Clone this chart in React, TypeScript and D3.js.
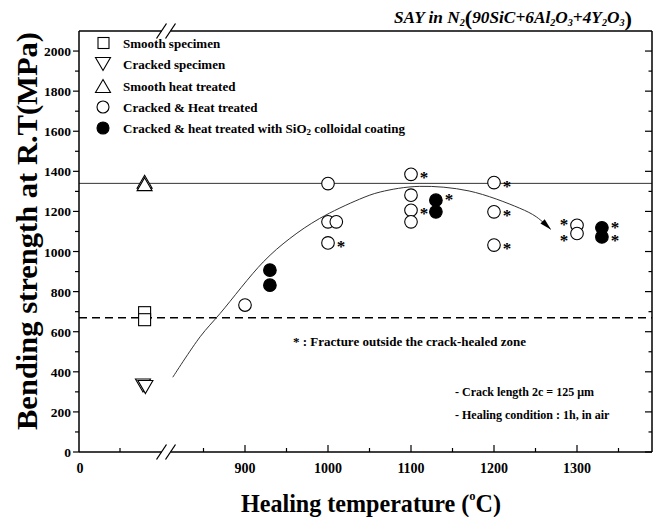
import React from 'react';
import * as d3 from 'd3';

const W = 660;
const H = 517;

// frame of the plot, in px
const frame = { left: 79, right: 652, top: 31, bottom: 452 };
const breakAt = [161.5, 170.5];

const yMajor = d3.range(0, 2001, 200);
const yMinor = d3.range(100, 2100, 200);
const xMajor = [900, 1000, 1100, 1200, 1300];
const xMinor = [850, 950, 1050, 1150, 1250, 1350];

// untreated specimens sit in the left (un-scaled) part of the axis
const smoothPos = [80, 80];
const smoothVal = [695, 660];
const crackedPos = [78, 81];
const crackedVal = [332, 324];
const smoothHtPos = [80, 80];
const smoothHtVal = [1348, 1336];

// cracked & heat treated (open circles); star codes: side + (u)p/(d)own nudge
const openTemp = [900, 1000, 1000, 1010, 1000, 1100, 1100, 1100, 1100, 1200, 1200, 1200, 1300, 1300];
const openVal = [733, 1339, 1148, 1148, 1043, 1385, 1281, 1206, 1148, 1344, 1198, 1032, 1131, 1090];
const openStar = ['', '', '', '', 'r', 'r', '', 'r', '', 'r', 'r', 'r', 'lu', 'ld'];

// with SiO2 colloidal coating (filled circles)
const filledTemp = [930, 930, 1130, 1130, 1330, 1330];
const filledVal = [907, 832, 1256, 1198, 1118, 1073];
const filledStar = ['', '', 'ru', '', 'ru', 'r'];

// guide curve drawn through the data
const curveTemp = [813, 846, 870, 922, 954, 990, 1038, 1063, 1110, 1170, 1231, 1251, 1268];
const curveVal = [373, 575, 691, 948, 1065, 1165, 1261, 1297, 1325, 1302, 1216, 1173, 1112];

const smoothRef = 1340;
const crackedRef = 670;

const legendItems = ['Smooth specimen', 'Cracked specimen', 'Smooth heat treated', 'Cracked & Heat treated'];

const serif = '"Liberation Serif", "Times New Roman", serif';

const App = () => {
  const y = d3.scaleLinear().domain([0, 2100]).range([frame.bottom, frame.top]);
  const x = d3.scaleLinear().domain([900, 1300]).range([245, 577]);
  const xLeft = d3.scaleLinear().domain([0, 100]).range([frame.left, 161]);

  const line = d3
    .line<number>()
    .x((d, i) => x(curveTemp[i]))
    .y(d => y(d))
    .curve(d3.curveCatmullRom.alpha(0.5));

  const tri = (cx: number, cy: number, up: boolean) => {
    const h = 6.5, w = 7.5;
    return up
      ? `M${cx},${cy - h}L${cx + w},${cy + h}L${cx - w},${cy + h}Z`
      : `M${cx},${cy + h}L${cx + w},${cy - h}L${cx - w},${cy - h}Z`;
  };

  const star = (cx: number, cy: number, code: string, key: string) => {
    if (!code) return null;
    const dx = code[0] === 'r' ? 13 : -13;
    const dy = code[1] === 'u' ? -4 : code[1] === 'd' ? 4 : 0;
    return (
      <text key={key} x={cx + dx} y={cy + dy + 9} textAnchor="middle"
        fontSize={17} fontWeight="bold" fontFamily={serif} fill="#000">*</text>
    );
  };

  const slash = (bx: number, by: number, k: string) => (
    <line key={k} x1={bx - 5} y1={by + 7.5} x2={bx + 5} y2={by - 7.5} stroke="#000" strokeWidth={1.3} />
  );

  const legendY = [43, 64, 86, 107, 128];

  return (
    <svg width={W} height={H} style={{ position: 'absolute', left: 0, top: 0, background: '#fff' }}>
      <defs>
        <marker id="arrow" viewBox="0 0 12 6" refX={11} refY={3} markerWidth={12} markerHeight={6}
          markerUnits="userSpaceOnUse" orient="auto">
          <path d="M0,0L12,3L0,6Z" fill="#000" />
        </marker>
      </defs>

      {/* reference lines */}
      <line x1={frame.left} x2={frame.right} y1={y(smoothRef)} y2={y(smoothRef)} stroke="#333" strokeWidth={1} />
      <line x1={frame.left} x2={frame.right} y1={y(crackedRef)} y2={y(crackedRef)} stroke="#000"
        strokeWidth={1.5} strokeDasharray="8,5" />

      {/* trend curve */}
      <path d={line(curveVal) || ''} fill="none" stroke="#333" strokeWidth={1} markerEnd="url(#arrow)" />

      {/* frame with axis break */}
      <g stroke="#000" strokeWidth={1.5} fill="none">
        <line x1={frame.left} x2={frame.left} y1={frame.top} y2={frame.bottom} />
        <line x1={frame.right} x2={frame.right} y1={frame.top} y2={frame.bottom} />
        <line x1={frame.left} x2={breakAt[0]} y1={frame.top} y2={frame.top} />
        <line x1={breakAt[1]} x2={frame.right} y1={frame.top} y2={frame.top} />
        <line x1={frame.left} x2={breakAt[0]} y1={frame.bottom} y2={frame.bottom} />
        <line x1={breakAt[1]} x2={frame.right} y1={frame.bottom} y2={frame.bottom} />
      </g>
      {breakAt.map((b, i) => slash(b, frame.top, 't' + i))}
      {breakAt.map((b, i) => slash(b, frame.bottom, 'b' + i))}

      {/* ticks */}
      <g stroke="#000" strokeWidth={1.2}>
        {yMajor.map(v => (
          <g key={'ym' + v}>
            <line x1={frame.left - 6} x2={frame.left} y1={y(v)} y2={y(v)} />
            <line x1={frame.right - 7} x2={frame.right} y1={y(v)} y2={y(v)} />
          </g>
        ))}
        {yMinor.map(v => (
          <g key={'yn' + v}>
            <line x1={frame.left - 4} x2={frame.left} y1={y(v)} y2={y(v)} />
            <line x1={frame.right - 3.5} x2={frame.right} y1={y(v)} y2={y(v)} />
          </g>
        ))}
        {xMajor.map(v => (
          <line key={'xm' + v} x1={x(v)} x2={x(v)} y1={frame.bottom} y2={frame.bottom - 7} />
        ))}
        {xMinor.map(v => (
          <line key={'xn' + v} x1={x(v)} x2={x(v)} y1={frame.bottom} y2={frame.bottom - 4} />
        ))}
        <line x1={xLeft(50)} x2={xLeft(50)} y1={frame.bottom} y2={frame.bottom - 4} />
      </g>
      <g fontFamily={serif} fontWeight="bold" fontSize={13.5}>
        {yMajor.map(v => (
          <text key={'yl' + v} x={frame.left - 8} y={y(v) + 5} textAnchor="end">{v}</text>
        ))}
      </g>
      <g fontFamily={serif} fontWeight="bold" fontSize={14}>
        <text x={xLeft(0) + 1} y={473} textAnchor="middle">0</text>
        {xMajor.map(v => (
          <text key={'xl' + v} x={x(v)} y={473} textAnchor="middle">{v}</text>
        ))}
      </g>

      {/* axis titles */}
      <text x={371} y={512} textAnchor="middle" fontFamily={serif} fontWeight="bold" fontSize={25}
        textLength={260} lengthAdjust="spacingAndGlyphs">
        Healing temperature (<tspan fontSize={13} dy={-12}>o</tspan><tspan dy={12}>C)</tspan>
      </text>
      <text transform="translate(37,231) rotate(-90)" textAnchor="middle" fontFamily={serif}
        fontWeight="bold" fontSize={30} textLength={398} lengthAdjust="spacingAndGlyphs">
        Bending strength at R.T(MPa)
      </text>

      {/* title */}
      <text x={394} y={23} fontFamily={serif} fontWeight="bold" fontStyle="italic" fontSize={17}
        textLength={238} lengthAdjust="spacingAndGlyphs">
        SAY in N<tspan fontSize={10} dy={3}>2</tspan>
        <tspan fontSize={22} dy={-1} fontStyle="normal">(</tspan>
        <tspan dy={-2}>90SiC+6Al</tspan><tspan fontSize={10} dy={3}>2</tspan>
        <tspan dy={-3}>O</tspan><tspan fontSize={10} dy={3}>3</tspan>
        <tspan dy={-3}>+4Y</tspan><tspan fontSize={10} dy={3}>2</tspan>
        <tspan dy={-3}>O</tspan><tspan fontSize={10} dy={3}>3</tspan>
        <tspan fontSize={22} dy={0} fontStyle="normal">)</tspan>
      </text>

      {/* data markers */}
      <g fill="#fff" stroke="#000" strokeWidth={1.1}>
        {smoothVal.map((v, i) => (
          <rect key={'s' + i} x={xLeft(smoothPos[i]) - 6} y={y(v) - 6} width={12} height={12} />
        ))}
        {crackedVal.map((v, i) => (
          <path key={'c' + i} d={tri(xLeft(crackedPos[i]), y(v), false)} />
        ))}
        {smoothHtVal.map((v, i) => (
          <path key={'h' + i} d={tri(xLeft(smoothHtPos[i]), y(v), true)} />
        ))}
        {openVal.map((v, i) => (
          <circle key={'o' + i} cx={x(openTemp[i])} cy={y(v)} r={6.3} />
        ))}
        {filledVal.map((v, i) => (
          <circle key={'f' + i} cx={x(filledTemp[i])} cy={y(v)} r={6.3} fill="#000" />
        ))}
      </g>
      <g>
        {openVal.map((v, i) => star(x(openTemp[i]), y(v), openStar[i], 'os' + i))}
        {filledVal.map((v, i) => star(x(filledTemp[i]), y(v), filledStar[i], 'fs' + i))}
      </g>

      {/* legend */}
      <g fill="#fff" stroke="#000" strokeWidth={1.1}>
        <rect x={98} y={legendY[0] - 5.5} width={11} height={11} />
        <path d={tri(103, legendY[1], false)} />
        <path d={tri(103, legendY[2], true)} />
        <circle cx={103} cy={legendY[3]} r={6} />
        <circle cx={103} cy={legendY[4]} r={6} fill="#000" />
      </g>
      <g fontFamily={serif} fontWeight="bold" fontSize={13}>
        {legendItems.map((t, i) => (
          <text key={t} x={123} y={legendY[i] + 4.5}>{t}</text>
        ))}
        <text x={123} y={legendY[4] + 4.5}>
          Cracked &amp; heat treated with SiO<tspan fontSize={9} dy={2}>2</tspan>
          <tspan dy={-2}> colloidal coating</tspan>
        </text>
      </g>

      {/* notes */}
      <g fontFamily={serif} fontWeight="bold">
        <text x={293} y={346} fontSize={13}>* : Fracture outside the crack-healed zone</text>
        <text x={455} y={396} fontSize={12}>- Crack length 2c = 125 μm</text>
        <text x={455} y={419} fontSize={12}>- Healing condition : 1h, in air</text>
      </g>
    </svg>
  );
};

export default App;
